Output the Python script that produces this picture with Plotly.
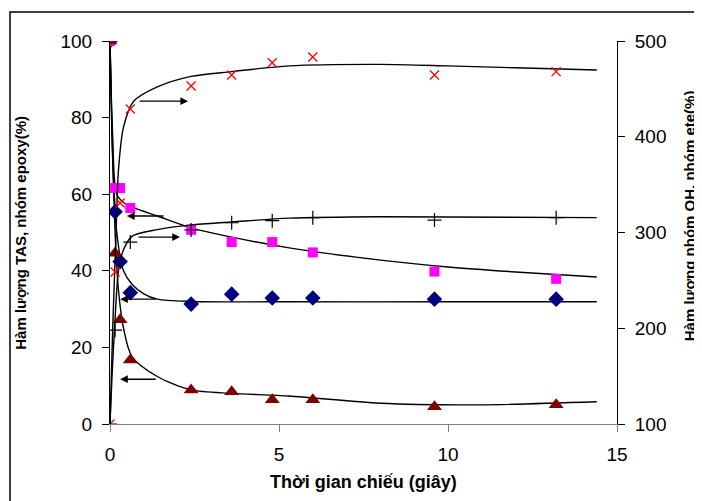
import plotly.graph_objects as go

# ---- data (time in seconds) ----
t = [0, 0.15, 0.3, 0.6, 2.4, 3.6, 4.8, 6.0, 9.6, 13.2]
# left axis series (%)
diamond_vals = [100, 55.4, 42.4, 34.3, 31.3, 33.9, 32.9, 32.9, 32.6, 32.6]
square_vals = [100, 61.6, 61.6, 56.4, 50.7, 47.5, 47.5, 44.8, 39.8, 37.9]
triangle_vals = [100, 44.6, 27.2, 16.7, 8.9, 8.4, 6.3, 6.3, 4.5, 5.0]
# right axis series (%)
xmark_vals = [100, 258.7, 330.8, 429, 453, 464.5, 477.3, 483.3, 464.5, 468]
plus_vals = [100, 198, None, 290, 302.6, 310.2, 312.3, 315.5, 313, 315.5]

# trend curves
sq_curve_t = [0, 0.08, 0.2, 0.45, 0.7, 1.4, 2.4, 3.6, 5.3, 8.0, 10.0, 12.0, 14.4]
sq_curve_v = [100, 75, 60, 57.5, 56.5, 54.3, 51.2, 48.8, 46.0, 42.8, 41.0, 39.7, 38.4]
di_curve_t = [0, 0.08, 0.2, 0.4, 0.65, 1.0, 1.4, 2.4, 5.0, 10.0, 14.4]
di_curve_v = [100, 70, 50, 40, 36.5, 34, 32.6, 32.0, 31.9, 31.9, 31.9]
tr_curve_t = [0, 0.06, 0.15, 0.25, 0.4, 0.65, 1.4, 2.4, 3.6, 5.3, 8.0, 10.9, 14.4]
tr_curve_v = [100, 75, 50, 35, 25, 17.6, 12.4, 8.9, 8.0, 7.3, 5.4, 5.0, 5.8]
xm_curve_t = [0, 0.08, 0.18, 0.25, 0.4, 0.7, 1.4, 2.4, 3.6, 5.3, 8.0, 10.0, 12.0, 14.4]
xm_curve_v = [100, 200, 300, 365, 410, 437, 452, 463, 468, 474, 475.6, 474, 472, 469.7]
pl_curve_t = [0, 0.06, 0.15, 0.25, 0.4, 0.65, 1.4, 2.4, 3.6, 5.3, 8.0, 14.4]
pl_curve_v = [100, 150, 210, 260, 282, 296, 303, 308, 311, 315, 316.5, 315.5]

# arrows: (head_x, tail_x, y on left axis)
arrows = [
    (2.31, 0.83, 84.3),
    (0.5, 1.63, 54.3),
    (2.07, 0.8, 48.8),
    (0.3, 1.4, 32.6),
    (0.3, 1.4, 11.7),
]

xticks = [0, 5, 10, 15]
yticks_left = [0, 20, 40, 60, 80, 100]
yticks_right = [100, 200, 300, 400, 500]

FONT = "Liberation Sans, Arial, sans-serif"

fig = go.Figure()

curve_style = dict(mode="lines", line=dict(color="black", width=1.4, shape="spline", smoothing=0.8),
                   showlegend=False, hoverinfo="skip")
fig.add_trace(go.Scatter(x=sq_curve_t, y=sq_curve_v, **curve_style))
fig.add_trace(go.Scatter(x=di_curve_t, y=di_curve_v, **curve_style))
fig.add_trace(go.Scatter(x=tr_curve_t, y=tr_curve_v, **curve_style))
fig.add_trace(go.Scatter(x=xm_curve_t, y=xm_curve_v, yaxis="y2", **curve_style))
fig.add_trace(go.Scatter(x=pl_curve_t, y=pl_curve_v, yaxis="y2", **curve_style))

fig.add_trace(go.Scatter(x=t, y=diamond_vals, mode="markers", showlegend=False,
                         marker=dict(symbol="diamond", size=12, color="#000080")))
fig.add_trace(go.Scatter(x=t, y=square_vals, mode="markers", showlegend=False,
                         marker=dict(symbol="square", size=10, color="#FF00FF")))
fig.add_trace(go.Scatter(x=t, y=triangle_vals, mode="markers", showlegend=False,
                         marker=dict(symbol="triangle-up", size=13, color="#800000")))
fig.add_trace(go.Scatter(x=t, y=xmark_vals, yaxis="y2", mode="markers", showlegend=False,
                         marker=dict(symbol="x-thin", size=9, line=dict(color="#FF0000", width=1.3))))
fig.add_trace(go.Scatter(x=t, y=plus_vals, yaxis="y2", mode="markers", showlegend=False,
                         marker=dict(symbol="cross-thin", size=10, line=dict(color="black", width=1.2))))

for hx, tx, yy in arrows:
    fig.add_annotation(x=hx, y=yy, ax=tx, ay=yy, xref="x", yref="y", axref="x", ayref="y",
                       text="", showarrow=True, arrowhead=2, arrowsize=1.1, arrowwidth=1.4,
                       arrowcolor="black")

# axis titles
fig.add_annotation(text="<b>Thời gian chiếu (giây)</b>", xref="paper", yref="paper",
                   x=0.5, y=-0.152, yanchor="middle", showarrow=False,
                   font=dict(family=FONT, size=18, color="black"))
fig.add_annotation(text="<b>Hàm lượng TAS, nhóm epoxy(%)</b>", xref="paper", yref="paper",
                   x=-0.177, y=0.5, xanchor="center", yanchor="middle", textangle=-90,
                   showarrow=False, font=dict(family=FONT, size=15, color="black"))
fig.add_annotation(text="<b>Hàm lượng nhóm OH, nhóm ete(%)</b>", xref="paper", yref="paper",
                   x=1.142, y=0.545, xanchor="center", yanchor="middle", textangle=-90,
                   showarrow=False, font=dict(family=FONT, size=15, color="black"))

# outer frame (top and left edges visible)
fig.add_shape(type="rect", xref="paper", yref="paper",
              x0=(2 - 102) / 507, x1=(720 - 102) / 507,
              y0=(416 - 520) / 383, y1=(416 - 4) / 383,
              line=dict(color="black", width=1.5), fillcolor="rgba(0,0,0,0)", layer="above")

axis_common = dict(showgrid=False, zeroline=False, showline=True, ticks="outside",
                   ticklen=7, tickwidth=1, tickfont=dict(family=FONT, size=19, color="black"))

fig.update_layout(
    width=702, height=501,
    margin=dict(l=102, r=93, t=33, b=85),
    paper_bgcolor="white", plot_bgcolor="white",
    font=dict(family=FONT, color="black"),
    xaxis=dict(range=[0, 15], tickvals=xticks, linecolor="#808080", tickcolor="#808080",
               ticklabelstandoff=6, **axis_common),
    yaxis=dict(range=[0, 100], tickvals=yticks_left, linecolor="black", tickcolor="black",
               ticklabelstandoff=6, **axis_common),
    yaxis2=dict(range=[100, 500], tickvals=yticks_right, overlaying="y", side="right",
                linecolor="black", tickcolor="black", ticklabelstandoff=6, **axis_common),
)

fig.write_html("out.html")
